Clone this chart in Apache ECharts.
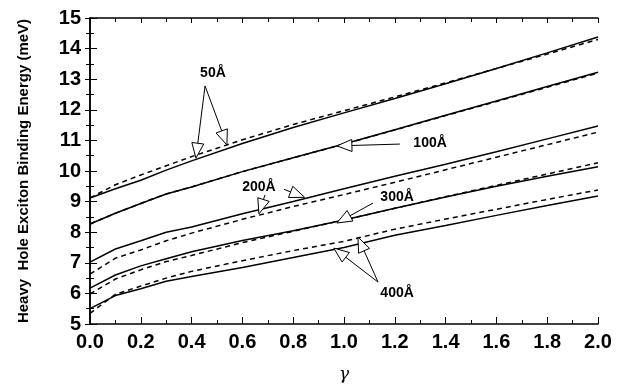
<!DOCTYPE html>
<html>
<head>
<meta charset="utf-8">
<script src="https://cdn.jsdelivr.net/npm/echarts@6/dist/echarts.min.js"></script>
<style>
html,body{margin:0;padding:0;background:#fff;}
#c{width:623px;height:384px;}
</style>
</head>
<body>
<div id="c"></div>
<script>
// x values (gamma)
const gamma = [0, 0.1, 0.2, 0.3, 0.4, 0.6, 0.8, 1.0, 1.2, 1.4, 1.6, 1.8, 2.0];

// solid / dashed curves per well width
const s50  = [9.12, 9.42, 9.70, 10.03, 10.33, 10.90, 11.42, 11.90, 12.37, 12.85, 13.35, 13.86, 14.38];
const d50  = [9.12, 9.55, 9.87, 10.17, 10.47, 11.02, 11.52, 11.97, 12.42, 12.88, 13.35, 13.82, 14.30];
const s100 = [8.27, 8.62, 8.94, 9.25, 9.48, 9.98, 10.43, 10.88, 11.35, 11.82, 12.29, 12.76, 13.23];
const d100 = [8.27, 8.62, 8.94, 9.25, 9.48, 9.98, 10.43, 10.88, 11.34, 11.81, 12.27, 12.74, 13.20];
const s200 = [7.02, 7.45, 7.72, 8.00, 8.17, 8.60, 9.00, 9.42, 9.83, 10.22, 10.63, 11.05, 11.47];
const d200 = [6.63, 7.15, 7.42, 7.72, 7.97, 8.42, 8.84, 9.23, 9.63, 10.04, 10.45, 10.86, 11.27];
const s300 = [6.17, 6.60, 6.90, 7.13, 7.36, 7.73, 8.05, 8.40, 8.78, 9.15, 9.50, 9.83, 10.14];
const d300 = [5.98, 6.47, 6.77, 7.04, 7.24, 7.66, 8.03, 8.40, 8.78, 9.16, 9.53, 9.90, 10.27];
const s400 = [5.50, 5.93, 6.15, 6.40, 6.55, 6.85, 7.17, 7.50, 7.90, 8.22, 8.55, 8.87, 9.18];
const d400 = [5.35, 5.97, 6.24, 6.50, 6.72, 7.07, 7.40, 7.70, 8.10, 8.43, 8.75, 9.07, 9.38];

// annotation labels and arrows (data coordinates)
const labels = [
  {text: '50Å',  pos: [0.484, 13.2]},
  {text: '100Å', pos: [1.339, 10.92]},
  {text: '200Å', pos: [0.665, 9.48]},
  {text: '300Å', pos: [1.209, 9.15]},
  {text: '400Å', pos: [1.209, 6.01]}
];
const arrows = [
  {from: [0.453, 12.78], to: [0.417, 10.42]},
  {from: [0.453, 12.78], to: [0.539, 10.85]},
  {from: [1.22, 10.88],  to: [0.972, 10.82]},
  {from: [0.689, 9.22],  to: [0.665, 8.60]},
  {from: [0.764, 9.40],  to: [0.845, 9.14]},
  {from: [1.114, 8.95],  to: [0.972, 8.30]},
  {from: [1.134, 6.37],  to: [0.960, 7.48]},
  {from: [1.134, 6.37],  to: [1.055, 7.84]}
];

const chart = echarts.init(document.getElementById('c'), null, {renderer: 'canvas'});

function mk(vals, dashed, name) {
  return {
    name: name, type: 'line', data: gamma.map((g, i) => [g, vals[i]]),
    showSymbol: false, smooth: false, silent: true, animation: false,
    lineStyle: {color: '#000', width: 1.5, type: dashed ? [5, 4] : 'solid'},
    xAxisIndex: 0, yAxisIndex: 0
  };
}

const tickLbl = {fontFamily: 'Liberation Sans', fontWeight: 'bold', fontSize: 20, color: '#000'};
const axisLine = {show: true, lineStyle: {color: '#000', width: 1.5}};

chart.setOption({
  animation: false,
  backgroundColor: '#fff',
  grid: {left: 90, right: 25, top: 18, bottom: 60, containLabel: false, outerBoundsMode: 'none'},
  xAxis: [
    {type: 'value', min: 0, max: 2, interval: 0.2, position: 'bottom',
     axisLine: axisLine,
     axisTick: {show: true, inside: true, length: 7, lineStyle: {color: '#000', width: 1}},
     minorTick: {show: true, splitNumber: 2, length: 4, lineStyle: {color: '#000', width: 1}},
     splitLine: {show: false},
     axisLabel: Object.assign({margin: 8, formatter: v => v.toFixed(1)}, tickLbl),
     name: 'γ', nameLocation: 'middle', nameGap: 42,
     nameTextStyle: {fontFamily: 'DejaVu Serif', fontStyle: 'italic', fontSize: 17, color: '#000'}},
    {type: 'value', min: 0, max: 2, interval: 0.2, position: 'top',
     axisLine: axisLine,
     axisTick: {show: true, inside: true, length: 5, lineStyle: {color: '#000', width: 1}},
     minorTick: {show: true, splitNumber: 2, length: 4, lineStyle: {color: '#000', width: 1}},
     splitLine: {show: false}, axisLabel: {show: false}}
  ],
  yAxis: [
    {type: 'value', min: 5, max: 15, interval: 1, position: 'left',
     axisLine: axisLine,
     axisTick: {show: true, inside: true, length: 7, lineStyle: {color: '#000', width: 1}},
     minorTick: {show: true, splitNumber: 2, length: 4, lineStyle: {color: '#000', width: 1}},
     splitLine: {show: false},
     axisLabel: Object.assign({margin: 9}, tickLbl),
     name: 'Heavy  Hole Exciton Binding Energy (meV)', nameLocation: 'middle', nameGap: 59,
     nameTextStyle: {fontFamily: 'Liberation Sans', fontWeight: 'bold', fontSize: 15, color: '#000'}},
    {type: 'value', min: 5, max: 15, interval: 1, position: 'right',
     axisLine: axisLine,
     axisTick: {show: true, inside: true, length: 5, lineStyle: {color: '#000', width: 1}},
     minorTick: {show: true, splitNumber: 2, length: 4, lineStyle: {color: '#000', width: 1}},
     splitLine: {show: false}, axisLabel: {show: false}}
  ],
  series: [
    mk(s50, false, '50s'), mk(d50, true, '50d'),
    mk(s100, false, '100s'), mk(d100, true, '100d'),
    mk(s200, false, '200s'), mk(d200, true, '200d'),
    mk(s300, false, '300s'), mk(d300, true, '300d'),
    mk(s400, false, '400s'), mk(d400, true, '400d')
  ]
});

function px(p) { return chart.convertToPixel({xAxisIndex: 0, yAxisIndex: 0}, p); }

const g = [];
labels.forEach(l => {
  const p = px(l.pos);
  g.push({type: 'text', x: p[0], y: p[1], z: 100,
    style: {text: l.text, fill: '#000', font: 'bold 14px "Liberation Sans"', align: 'center', verticalAlign: 'middle'}});
});
arrows.forEach(a => {
  const o = px(a.from), t = px(a.to);
  const dx = t[0] - o[0], dy = t[1] - o[1];
  const len = Math.sqrt(dx * dx + dy * dy);
  const ux = dx / len, uy = dy / len;
  const L = 15, W = 6;
  const bx = t[0] - ux * L, by = t[1] - uy * L;
  g.push({type: 'line', z: 100, shape: {x1: o[0], y1: o[1], x2: bx, y2: by},
    style: {stroke: '#000', lineWidth: 1}});
  g.push({type: 'polygon', z: 101,
    shape: {points: [[t[0], t[1]], [bx - uy * W, by + ux * W], [bx + uy * W, by - ux * W]]},
    style: {fill: '#fff', stroke: '#000', lineWidth: 1}});
});
chart.setOption({graphic: g});
</script>
</body>
</html>
